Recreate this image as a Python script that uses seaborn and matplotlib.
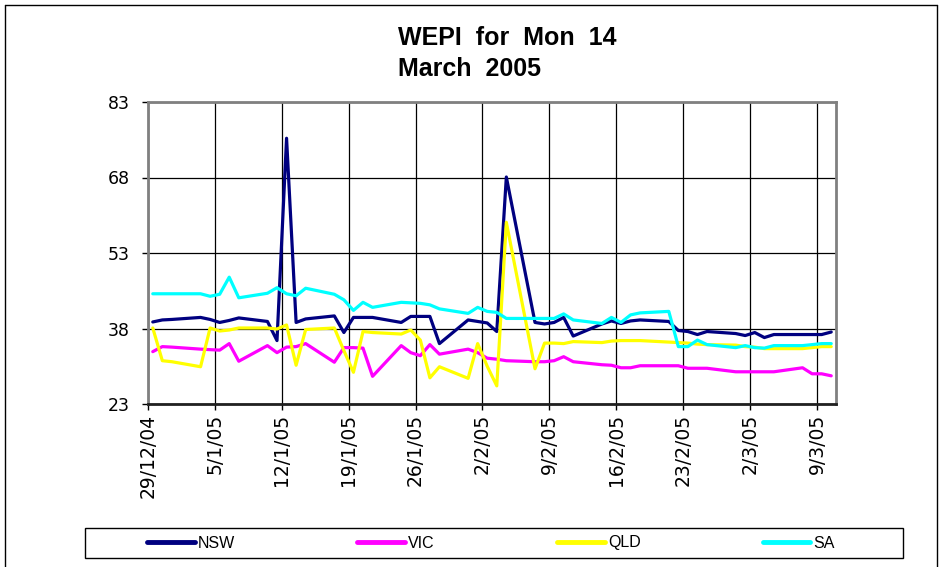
import matplotlib
matplotlib.use("Agg")
import matplotlib.pyplot as plt
from matplotlib.lines import Line2D
from matplotlib.patches import Rectangle
import pandas as pd
import seaborn as sns

# trading days shown on the chart (dd/mm/yy)
DATES = [
    "29/12/04", "30/12/04", "31/12/04", "3/1/05", "4/1/05", "5/1/05", "6/1/05", "7/1/05",
    "10/1/05", "11/1/05", "12/1/05", "13/1/05", "14/1/05",
    "17/1/05", "18/1/05", "19/1/05", "20/1/05", "21/1/05",
    "24/1/05", "25/1/05", "26/1/05", "27/1/05", "28/1/05",
    "31/1/05", "1/2/05", "2/2/05", "3/2/05", "4/2/05",
    "7/2/05", "8/2/05", "9/2/05", "10/2/05", "11/2/05",
    "14/2/05", "15/2/05", "16/2/05", "17/2/05", "18/2/05",
    "21/2/05", "22/2/05", "23/2/05", "24/2/05", "25/2/05",
    "28/2/05", "1/3/05", "2/3/05", "3/3/05", "4/3/05",
    "7/3/05", "8/3/05", "9/3/05", "10/3/05",
]

NSW = [
    39.3, 39.7, 39.8, 40.2, 39.8, 39.2, 39.6, 40.1,
    39.4, 35.6, 75.8, 39.2, 39.9,
    40.5, 37.2, 40.2, 40.2, 40.2,
    39.2, 40.4, 40.4, 40.4, 35.0,
    39.7, 39.4, 39.1, 37.4, 68.1,
    39.2, 38.9, 39.2, 40.2, 36.5,
    38.9, 39.5, 39.0, 39.5, 39.7,
    39.4, 37.6, 37.4, 36.8, 37.4,
    37.0, 36.6, 37.2, 36.2, 36.8,
    36.8, 36.8, 36.8, 37.3,
]
VIC = [
    33.4, 34.4, 34.3, 33.9, 33.8, 33.7, 35.0, 31.5,
    34.6, 33.2, 34.3, 34.4, 35.0,
    31.3, 34.2, 34.2, 34.1, 28.5,
    34.6, 33.2, 32.6, 34.8, 32.9,
    33.9, 33.2, 32.1, 31.9, 31.6,
    31.4, 31.4, 31.6, 32.4, 31.4,
    30.8, 30.7, 30.2, 30.2, 30.6,
    30.6, 30.6, 30.1, 30.1, 30.1,
    29.4, 29.4, 29.4, 29.4, 29.4,
    30.2, 29.0, 29.0, 28.6,
]
QLD = [
    38.1, 31.6, 31.4, 30.4, 38.1, 37.5, 37.7, 38.1,
    38.1, 37.9, 38.7, 30.7, 37.8,
    38.1, 33.6, 29.3, 37.4, 37.2,
    36.9, 37.7, 35.7, 28.2, 30.4,
    28.1, 35.0, 30.5, 26.6, 59.1,
    30.0, 35.1, 35.1, 35.0, 35.4,
    35.2, 35.5, 35.6, 35.6, 35.6,
    35.3, 35.2, 35.1, 34.9, 34.8,
    34.7, 34.4, 34.3, 34.0, 34.0,
    34.0, 34.2, 34.4, 34.4,
]
SA = [
    44.9, 44.9, 44.9, 44.9, 44.4, 44.8, 48.2, 44.1,
    45.0, 46.1, 44.9, 44.5, 46.0,
    44.8, 43.7, 41.6, 43.2, 42.2,
    43.2, 43.1, 43.0, 42.7, 41.9,
    41.0, 42.2, 41.4, 41.2, 40.0,
    40.0, 40.0, 40.0, 40.9, 39.7,
    39.0, 40.2, 39.2, 40.7, 41.1,
    41.4, 34.4, 34.4, 35.7, 34.8,
    34.2, 34.6, 34.2, 34.1, 34.6,
    34.6, 34.8, 35.0, 35.0,
]

STATES = ["NSW", "VIC", "QLD", "SA"]
COLORS = {"NSW": "#000080", "VIC": "#FF00FF", "QLD": "#FFFF00", "SA": "#00FFFF"}

Y_TICKS = [23, 38, 53, 68, 83]
X_TICK_LABELS = ["29/12/04", "5/1/05", "12/1/05", "19/1/05", "26/1/05", "2/2/05",
                 "9/2/05", "16/2/05", "23/2/05", "2/3/05", "9/3/05"]

sns.set_theme(style="white")
plt.rcParams["font.family"] = ["Liberation Sans", "DejaVu Sans"]
plt.rcParams["text.color"] = "black"
plt.rcParams["xtick.color"] = "black"
plt.rcParams["ytick.color"] = "black"

# long form table; Excel date axis puts each point in the middle of its day
dates = pd.to_datetime(DATES, format="%d/%m/%y") + pd.Timedelta(hours=12)
df = pd.concat(
    [pd.DataFrame({"date": dates, "WEPI": vals, "state": name})
     for name, vals in zip(STATES, [NSW, VIC, QLD, SA])],
    ignore_index=True,
)

fig = plt.figure(figsize=(9.43, 5.67), dpi=100)
ax = fig.add_axes([148 / 943, 1 - 404 / 567, (836 - 148) / 943, (404 - 102) / 567])

sns.lineplot(data=df, x="date", y="WEPI", hue="state", hue_order=STATES,
             palette=COLORS, linewidth=2.3, estimator=None, sort=False, ax=ax)

handles, labels = ax.get_legend_handles_labels()
ax.get_legend().remove()

tick_dates = pd.to_datetime(X_TICK_LABELS, format="%d/%m/%y")
ax.set_xlim(pd.Timestamp("2004-12-29"), pd.Timestamp("2005-03-11"))
ax.set_xticks(tick_dates)
ax.set_xticklabels(X_TICK_LABELS, rotation=90, family="DejaVu Sans", fontsize=13.5,
                   color="black")
ax.set_ylim(23, 83)
ax.set_yticks(Y_TICKS)
ax.set_yticklabels([str(v) for v in Y_TICKS], family="DejaVu Sans", fontsize=12.5,
                   color="black")
ax.set_xlabel("")
ax.set_ylabel("")

ax.grid(True, color="black", linewidth=0.9)
ax.set_axisbelow(True)
ax.tick_params(axis="both", direction="out", length=4, width=1, color="black",
               left=True, bottom=True)
ax.tick_params(axis="y", pad=9)
ax.tick_params(axis="x", pad=3)
for side in ["left", "top", "right"]:
    ax.spines[side].set_color("#808080")
    ax.spines[side].set_linewidth(2)
ax.spines["bottom"].set_color("#202020")
ax.spines["bottom"].set_linewidth(2)

fig.text(398 / 943, 1 - 26 / 567, "WEPI  for  Mon  14\nMarch  2005",
         ha="left", va="top", fontsize=18, fontweight="bold", linespacing=1.35,
         color="black")

# legend box along the bottom
fig.patches.append(Rectangle((85 / 943, 1 - 558 / 567), 818 / 943, 30 / 567,
                             transform=fig.transFigure, fill=False,
                             edgecolor="black", linewidth=1))
for h in handles:
    h.set_linewidth(3.5)
fig.legend(handles, labels, loc="center", ncol=4, mode="expand", frameon=False,
           bbox_to_anchor=(147 / 943, 1 - 558 / 567, (835 - 147) / 943, 30 / 567),
           borderaxespad=0, borderpad=0, handlelength=3.0, handletextpad=0.2,
           fontsize=11.5, labelcolor="black")

# outer chart border
for xs, ys in [((5, 5), (5, 567)), ((5, 937), (5, 5)), ((937, 937), (5, 567))]:
    fig.add_artist(Line2D([x / 943 for x in xs], [1 - y / 567 for y in ys],
                          color="black", linewidth=1, transform=fig.transFigure))

fig.savefig("out.png", dpi=100, facecolor="white")
